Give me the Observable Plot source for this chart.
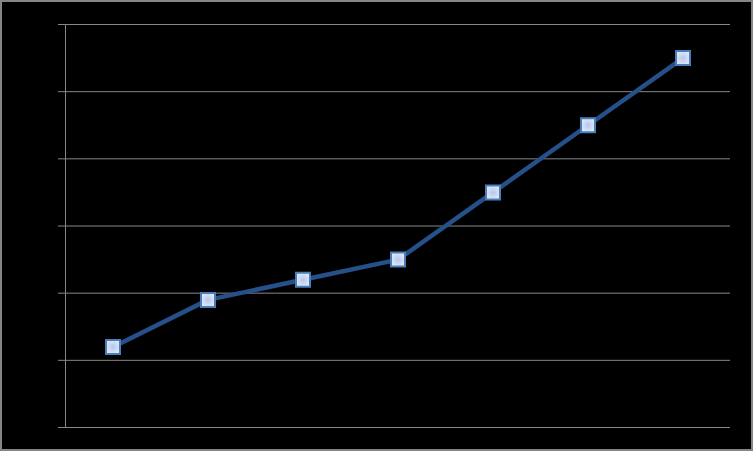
<!DOCTYPE html>
<html>
<head>
<meta charset="utf-8">
<script src="https://cdn.jsdelivr.net/npm/d3@7"></script>
<script src="https://cdn.jsdelivr.net/npm/@observablehq/plot@0.6"></script>
<style>
  html, body { margin: 0; padding: 0; background: #000; }
  #wrap { position: relative; width: 753px; height: 451px; }
  #border { position: absolute; left: 0; top: 0; width: 753px; height: 451px; box-sizing: border-box; border: 2px solid #858585; pointer-events: none; }
</style>
</head>
<body>
<div id="wrap"><div id="chart"></div><div id="border"></div></div>
<script>
const categories = [0, 1, 2, 3, 4, 5, 6];
const values = [1.2, 1.9, 2.2, 2.5, 3.5, 4.5, 5.5];
const yTicks = [0, 1, 2, 3, 4, 5, 6];

const data = categories.map((c, i) => ({x: c, y: values[i]}));

const chart = Plot.plot({
  width: 753,
  height: 451,
  marginLeft: 65,
  marginRight: 23,
  marginTop: 24,
  marginBottom: 24,
  style: {background: "#000"},
  x: {domain: [-0.5, 6.5], axis: null},
  y: {domain: [0, 6], axis: null},
  marks: [
    Plot.ruleY(yTicks, {stroke: "#878787", strokeWidth: 1, strokeOpacity: 1}),
    Plot.axisY({ticks: yTicks, tickSize: 7, tickFormat: () => "", stroke: "#878787", strokeOpacity: 1}),
    Plot.ruleX([-0.5], {stroke: "#878787", strokeWidth: 1}),
    Plot.line(data, {x: "x", y: "y", stroke: "#255089", strokeWidth: 4.5}),
    Plot.dot(data, {x: "x", y: "y", symbol: "square", r: 7.9, fill: "url(#mk)", stroke: "#4a7ebb", strokeWidth: 2})
  ]
});

const defs = d3.select(chart).insert("defs", ":first-child");
const g = defs.append("radialGradient").attr("id", "mk");
g.append("stop").attr("offset", "0%").attr("stop-color", "#b3c7ec");
g.append("stop").attr("offset", "100%").attr("stop-color", "#dfe7f6");

document.getElementById("chart").appendChild(chart);
</script>
</body>
</html>
